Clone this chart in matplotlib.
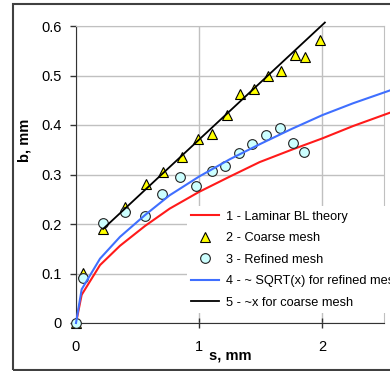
import matplotlib.pyplot as plt
from matplotlib.patches import Rectangle

plt.rcParams['font.family'] = ['Liberation Sans', 'DejaVu Sans']

# theory / fit curves
s_theory = [0, 0.046, 0.195, 0.357, 0.56, 0.76, 1.0, 1.25, 1.49, 1.75, 2.0, 2.25, 2.55]
b_laminar = [0, 0.057, 0.117, 0.156, 0.196, 0.231, 0.265, 0.296, 0.325, 0.350, 0.373, 0.398, 0.425]
b_sqrt = [0, 0.068, 0.13, 0.174, 0.218, 0.258, 0.296, 0.331, 0.361, 0.392, 0.420, 0.444, 0.470]

# ~x line for coarse mesh
s_lin = [0.22, 2.02]
b_lin = [0.19, 0.607]

# coarse mesh (triangles)
s_coarse = [0, 0.054, 0.22, 0.40, 0.567, 0.705, 0.857, 0.99, 1.10, 1.225, 1.333, 1.447, 1.555, 1.664, 1.775, 1.862, 1.98]
b_coarse = [0, 0.102, 0.19, 0.235, 0.28, 0.305, 0.336, 0.371, 0.381, 0.421, 0.462, 0.472, 0.498, 0.510, 0.541, 0.537, 0.572]

# refined mesh (circles)
s_fine = [0, 0.054, 0.22, 0.40, 0.56, 0.695, 0.845, 0.97, 1.10, 1.21, 1.32, 1.43, 1.54, 1.655, 1.76, 1.85]
b_fine = [0, 0.091, 0.203, 0.225, 0.216, 0.26, 0.295, 0.277, 0.307, 0.317, 0.344, 0.361, 0.379, 0.394, 0.363, 0.345]

x_ticks = [0, 1, 2]
y_ticks = [0, 0.1, 0.2, 0.3, 0.4, 0.5, 0.6]
y_labels = ['0', '0.1', '0.2', '0.3', '0.4', '0.5', '0.6']

fig = plt.figure(figsize=(3.9, 3.71), dpi=100)
ax = fig.add_axes([76/390, 1-323/371, 308/390, 297/371])

# outer chart frame (right side is cut off in the original)
fig.patches.append(Rectangle((13/390, 1-370/371), 1.2, (370-4)/371, transform=fig.transFigure,
                             fill=False, edgecolor='#404040', linewidth=1.5))

ax.plot(s_theory, b_laminar, color='#FF1A1A', lw=1.5, label='1 - Laminar BL theory', zorder=3, clip_on=False)
ax.plot(s_coarse, b_coarse, ls='none', marker='^', ms=7, mfc='#FFFF00', mec='black', mew=0.8,
        label='2 - Coarse mesh', zorder=4, clip_on=False)
ax.plot(s_fine, b_fine, ls='none', marker='o', ms=7, mfc='#CCFFFF', mec='#222222', mew=0.8,
        label='3 - Refined mesh', zorder=5, clip_on=False)
ax.plot(s_theory, b_sqrt, color='#3F6FFF', lw=1.5, label='4 - ~ SQRT(x) for refined mesh', zorder=6, clip_on=False)
ax.plot(s_lin, b_lin, color='black', lw=1.3, label='5 - ~x for coarse mesh', zorder=7, clip_on=False)

ax.set_xlim(0, 2.5)
ax.set_ylim(0, 0.6)
ax.set_xticks(x_ticks)
ax.set_yticks(y_ticks)
ax.set_yticklabels(y_labels)
ax.grid(True, color='#C0C0C0', lw=1)
ax.set_axisbelow(True)

for side in ['top', 'right']:
    ax.spines[side].set_color('#C0C0C0')
for side in ['left', 'bottom']:
    ax.spines[side].set_color('#333333')
    ax.spines[side].set_zorder(2.5)

ax.tick_params(axis='y', direction='out', length=4, width=1, color='#333333', labelsize=10.5, pad=6)
ax.tick_params(axis='x', direction='inout', length=7, width=1, color='#333333', labelsize=10.5, pad=9)

ax.set_xlabel('s, mm', fontsize=10.5, fontweight='bold')
ax.set_ylabel('b, mm', fontsize=10.5, fontweight='bold')
ax.xaxis.set_label_coords(0.5, -0.085)
ax.yaxis.set_label_coords(-0.145, 0.614)

leg = ax.legend(loc='upper left', bbox_to_anchor=(0.36, 0.393), borderaxespad=0, numpoints=1,
                fontsize=9.2, handlelength=2.2, handletextpad=0.5, labelspacing=0.74,
                frameon=True, fancybox=False, borderpad=0.35)
leg.get_frame().set_facecolor('white')
leg.get_frame().set_edgecolor('none')
leg.get_frame().set_alpha(1)
leg.set_zorder(10)

plt.savefig('out.png', dpi=100)
